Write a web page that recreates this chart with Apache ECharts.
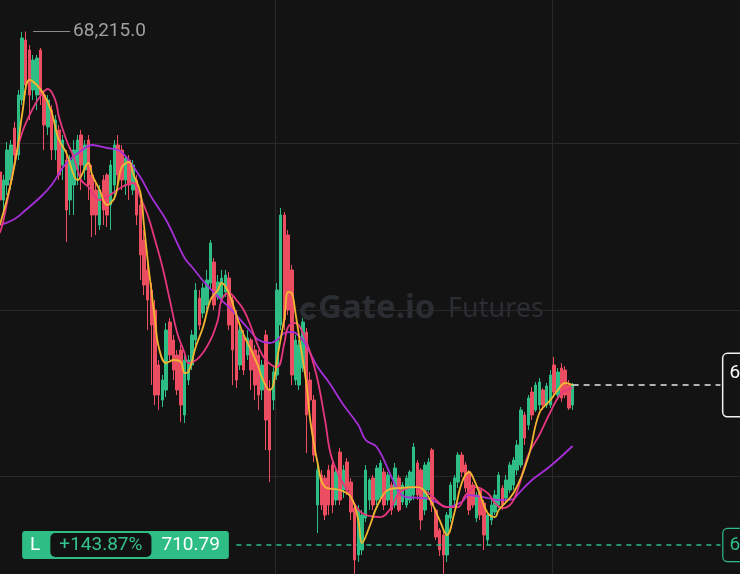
<!DOCTYPE html>
<html><head><meta charset="utf-8">
<script src="https://cdn.jsdelivr.net/npm/echarts@6.0.0/dist/echarts.min.js"></script>
<style>html,body{margin:0;padding:0;background:#131313;}#c{width:740px;height:574px;}</style>
</head><body><div id="c"></div>
<script>
// ---- data (prices) ----
const SLOTS = 210; // category slots on the time axis (candles + empty right margin)
const categories = Array.from({length: SLOTS}, (_, i) => String(i + 1));

const opens = [67372,67204,67294,67324,67636,67474,67804,68164,68104,67864,
67834,68104,67834,67642,67744,67504,67624,67414,67444,67204,
67294,67384,67594,67384,67564,67354,67264,67054,67324,67354,
67174,67294,67534,67504,67324,67444,67264,67324,67174,66964,
66784,66664,66544,66214,66004,66064,66472,66364,66274,66304,
65914,66124,66214,66364,66616,66526,66574,66706,66832,66622,
66616,66652,66736,66604,66514,66214,66394,66274,66364,66304,
66274,66064,66394,66064,66004,66154,66454,67114,66994,66784,
66124,66094,66196,66412,66124,66004,65374,65554,65536,65584,
65614,65404,65692,65464,65632,65512,65356,65074,65104,65296,
65404,65536,65404,65416,65572,65404,65494,65374,65536,65392,
65374,65404,65434,65626,65584,65344,65464,65704,65344,65224,
65194,65074,65296,65404,65512,65674,65614,65572,65494,65296,
65464,65386,65164,65284,65332,65374,65476,65416,65464,65494,
65584,65614,65914,65854,66052,65944,65974,66064,65974,65974,
66214,66034,66196,66184,66094,65974];

const closes = [67204,67324,67504,67534,67474,67834,68176,67894,67834,68044,
68056,67834,67654,67804,67504,67684,67354,67564,67144,67444,
67504,67564,67414,67534,67294,67114,67114,67264,67144,67114,
67414,67534,67354,67324,67456,67294,67414,67114,66874,66694,
66604,66454,66034,66034,66124,66424,66274,66184,66064,65974,
66244,66244,66394,66664,66454,66676,66724,66946,66574,66712,
66736,66754,66454,66304,66124,66424,66184,66376,66184,66094,
66034,66214,65884,65704,66172,66664,67114,66484,66544,66154,
66364,66334,66472,65914,66004,65674,65584,65374,65314,65374,
65374,65572,65404,65584,65464,65332,65044,65344,65314,65584,
65524,65374,65596,65626,65374,65554,65344,65596,65344,65494,
65536,65572,65722,65434,65284,65614,65632,65374,65182,65104,
65074,65314,65494,65536,65674,65572,65476,65344,65374,65434,
65314,65194,65314,65374,65434,65554,65374,65524,65614,65644,
65734,65944,65776,66016,65914,66094,66112,65974,66088,66154,
66052,66172,66016,66034,65956,66094];

const lows = [67144,67114,67234,67264,67444,67444,67774,67834,67684,67804,
67744,67774,67504,67594,67444,67444,67324,67324,66952,67114,
67114,67294,67264,67324,67204,66982,66994,67024,67054,67042,
67024,67204,67264,67264,67234,67204,67234,67054,66724,66634,
66424,66094,65974,65944,65962,66022,66244,66124,66034,65872,
65866,66094,66184,66334,66424,66496,66544,66664,66544,66604,
66586,66622,66424,66094,66076,66184,66154,66244,66064,66004,
65944,66004,65704,65512,65944,66124,66424,66424,66514,66094,
66094,66064,66172,65686,65956,65632,65206,65344,65284,65314,
65326,65374,65374,65416,65434,65284,64960,65032,65074,65272,
65344,65344,65374,65392,65344,65374,65314,65356,65332,65374,
65356,65386,65404,65404,65224,65314,65434,65332,65164,65068,
64960,65032,65272,65374,65476,65542,65452,65314,65356,65272,
65284,65104,65134,65254,65314,65356,65344,65392,65446,65464,
65554,65596,65734,65824,65884,65932,65944,65944,65956,65956,
66022,66004,65992,66016,65944,65944];

const highs = [67396,67354,67552,67564,67672,67864,68212,68215,68134,68074,
68074,68116,67864,67834,67774,67714,67654,67594,67504,67474,
67564,67594,67624,67564,67594,67414,67324,67294,67354,67366,
67444,67564,67594,67534,67474,67474,67444,67354,67204,67024,
66832,66706,66604,66244,66154,66466,66496,66394,66304,66334,
66274,66274,66424,66706,66664,66706,66784,66964,66856,66754,
66784,66784,66772,66634,66544,66454,66424,66424,66376,66334,
66304,66244,66424,66124,66214,66706,67156,67132,67024,66814,
66394,66364,66496,66436,66172,66034,65626,65584,65554,65614,
65644,65596,65716,65614,65656,65536,65374,65374,65344,65614,
65536,65554,65614,65644,65596,65572,65512,65626,65554,65512,
65554,65584,65746,65644,65596,65632,65656,65716,65356,65236,
65224,65332,65512,65554,65692,65692,65632,65584,65512,65452,
65476,65404,65332,65404,65464,65572,65494,65554,65632,65662,
65764,65962,65932,66034,66082,66112,66136,66076,66106,66184,
66262,66196,66226,66208,66124,66106];

// moving-average lines, read as [candle index, price]
const maFast = [[0,67054],[3,67306],[5,67546],[6,67714],[8,67924],[10,67894],[12,67834],[14,67732],[15,67642],[16,67564],[18,67486],[20,67354],[21,67324],[24,67426],[25,67354],[27,67264],[29,67174],[31,67216],[32,67306],[33,67402],[35,67432],[36,67366],[38,67252],[39,67054],[40,66844],[41,66664],[42,66484],[43,66322],[45,66226],[47,66244],[49,66232],[50,66166],[51,66172],[53,66322],[55,66442],[57,66604],[59,66664],[60,66706],[62,66646],[64,66514],[66,66394],[68,66304],[70,66202],[71,66136],[73,66064],[74,66094],[75,66244],[77,66496],[78,66652],[79,66646],[80,66526],[81,66382],[83,66094],[84,65884],[86,65626],[88,65482],[92,65464],[95,65422],[97,65284],[98,65146],[100,65242],[102,65362],[105,65464],[108,65476],[113,65482],[116,65422],[119,65284],[121,65194],[123,65326],[125,65506],[127,65572],[128,65542],[130,65434],[132,65326],[134,65302],[135,65344],[139,65446],[143,65662],[146,65926],[149,66004],[151,66064],[153,66106],[155,66094]];

const maMid = [[0,67006],[1,67084],[4,67426],[6,67606],[9,67756],[11,67828],[13,67870],[15,67804],[16,67702],[18,67564],[20,67462],[22,67324],[24,67282],[27,67204],[31,67252],[33,67282],[36,67306],[38,67222],[40,67114],[42,66964],[44,66802],[46,66604],[48,66406],[50,66286],[51,66226],[54,66262],[57,66364],[59,66484],[60,66604],[62,66646],[64,66604],[66,66544],[68,66442],[70,66322],[72,66244],[75,66202],[77,66346],[78,66442],[80,66466],[82,66406],[84,66286],[86,66124],[88,65884],[90,65644],[95,65422],[98,65326],[103,65302],[106,65362],[108,65446],[112,65482],[116,65446],[121,65362],[124,65362],[126,65434],[129,65482],[132,65446],[134,65386],[136,65356],[139,65404],[143,65674],[146,65794],[149,65932],[152,66046],[155,66076]];

const maSlow = [[0,67054],[4,67090],[7,67144],[11,67222],[14,67294],[18,67426],[22,67498],[25,67534],[29,67516],[32,67504],[34,67468],[38,67342],[41,67222],[45,67084],[50,66856],[52,66802],[56,66694],[60,66604],[63,66538],[68,66412],[70,66364],[73,66346],[75,66364],[77,66406],[79,66412],[80,66406],[82,66364],[84,66286],[86,66202],[89,66112],[93,65974],[97,65854],[99,65764],[102,65722],[106,65542],[108,65452],[110,65422],[115,65416],[118,65392],[121,65362],[125,65392],[127,65434],[132,65416],[135,65404],[139,65410],[140,65434],[144,65524],[149,65608],[155,65728]];

const highestPrice = 68215.0;
const entryPrice = 65134.0;
const positionSide = 'L';
const positionPnlPct = '+143.87%';
const positionPnl = '710.79';

// ---- chart ----
const UP = '#2ebd85', DOWN = '#ec4d60';
const lastIdx = closes.length - 1;
const lastClose = closes[lastIdx];
const candleData = opens.map((o, i) => [o, closes[i], lows[i], highs[i]]);
const fmt = v => v.toLocaleString('en-US', {minimumFractionDigits: 1, maximumFractionDigits: 1});
const FONT = 'Roboto';

const chart = echarts.init(document.getElementById('c'));
chart.setOption({
  backgroundColor: '#131313',
  animation: false,
  textStyle: {fontFamily: FONT},
  grid: {left: -2, right: -34, top: -23.5, bottom: -69.2, containLabel: false, outerBoundsMode: 'none'},
  xAxis: {
    type: 'category', data: categories, boundaryGap: true,
    axisLine: {show: false}, axisTick: {show: false}, axisLabel: {show: false},
    splitLine: {show: true, interval: 74, lineStyle: {color: '#292929', width: 1}}
  },
  yAxis: {
    type: 'value', min: 64545, max: 68545, interval: 1000,
    axisLine: {show: false}, axisTick: {show: false}, axisLabel: {show: false},
    splitLine: {show: true, lineStyle: {color: '#292929', width: 1}}
  },
  graphic: [
    {type: 'sector', shape: {cx: 309, cy: 311, r: 9, r0: 4, startAngle: 0.6, endAngle: 5.6}, style: {fill: '#2a2d32'}, silent: true},
    {type: 'text', left: 318, top: 292, silent: true, style: {text: 'Gate.io', fill: '#2a2d32', font: 'bold 33px "Noto Sans"'}},
    {type: 'text', left: 448, top: 296, silent: true, style: {text: 'Futures', fill: '#2a2d32', font: '27px "Noto Sans"'}}
  ],
  series: [
    {
      type: 'candlestick', data: candleData, barWidth: 3,
      itemStyle: {color: UP, color0: DOWN, borderColor: UP, borderColor0: DOWN, borderWidth: 1},
      markLine: {
        silent: true, symbol: ['none', 'none'], animation: false,
        data: [
          [
            {coord: [lastIdx, lastClose],
             lineStyle: {color: '#e6e6e6', type: [6, 5], width: 1.5},
             label: {show: true, position: 'end', distance: 3,
               formatter: '{a|' + fmt(lastClose) + '}\n{b|03:41}',
               backgroundColor: '#131313', borderColor: '#f2f2f2', borderWidth: 1.5, borderRadius: 4,
               padding: [7, 6, 7, 6],
               rich: {a: {color: '#fff', fontSize: 19, lineHeight: 24, fontFamily: FONT},
                      b: {color: '#fff', fontSize: 15, lineHeight: 24, padding: [0, 0, 0, 22], fontFamily: FONT}}}},
            {coord: [195, lastClose]}
          ],
          [
            {coord: [64, entryPrice],
             lineStyle: {color: UP, type: [5, 5], width: 1.5},
             label: {show: true, position: 'end', distance: 3, formatter: fmt(entryPrice),
               color: UP, fontSize: 19, fontFamily: FONT, backgroundColor: '#131313',
               borderColor: UP, borderWidth: 1.2, borderRadius: 4, padding: [7, 6, 6, 6]}},
            {coord: [195, entryPrice]}
          ],
          [
            {coord: [9, highestPrice],
             lineStyle: {color: '#8a8a8a', type: 'solid', width: 1},
             label: {show: true, position: 'end', distance: 3, formatter: fmt(highestPrice),
               color: '#a0a0a0', fontSize: 19, fontFamily: FONT}},
            {coord: [19, highestPrice]}
          ]
        ]
      },
      markPoint: {
        silent: true, animation: false,
        data: [{
          coord: [34, entryPrice], symbol: 'rect', symbolSize: 0,
          label: {show: true, position: 'inside',
            formatter: '{l|' + positionSide + '}{p|' + positionPnlPct + '}{v|' + positionPnl + '}',
            backgroundColor: UP, borderRadius: 3, padding: [2, 0, 2, 0],
            rich: {
              l: {color: '#fff', fontSize: 19, fontFamily: FONT, padding: [0, 10, 0, 8]},
              p: {color: '#34c48c', fontSize: 19, fontFamily: FONT, backgroundColor: '#121212', borderRadius: 5, padding: [3, 9, 2, 9]},
              v: {color: '#fff', fontSize: 19, fontFamily: FONT, padding: [0, 9, 0, 10]}
            }}
        }]
      }
    },
    {type: 'line', data: maSlow, smooth: 0.4, showSymbol: false, connectNulls: true, silent: true,
     lineStyle: {color: '#a62fd8', width: 1.8}},
    {type: 'line', data: maMid, smooth: 0.4, showSymbol: false, connectNulls: true, silent: true,
     lineStyle: {color: '#e5367f', width: 1.8}},
    {type: 'line', data: maFast, smooth: 0.4, showSymbol: false, connectNulls: true, silent: true,
     lineStyle: {color: '#f4b632', width: 1.8}}
  ]
});
</script>
</body></html>
